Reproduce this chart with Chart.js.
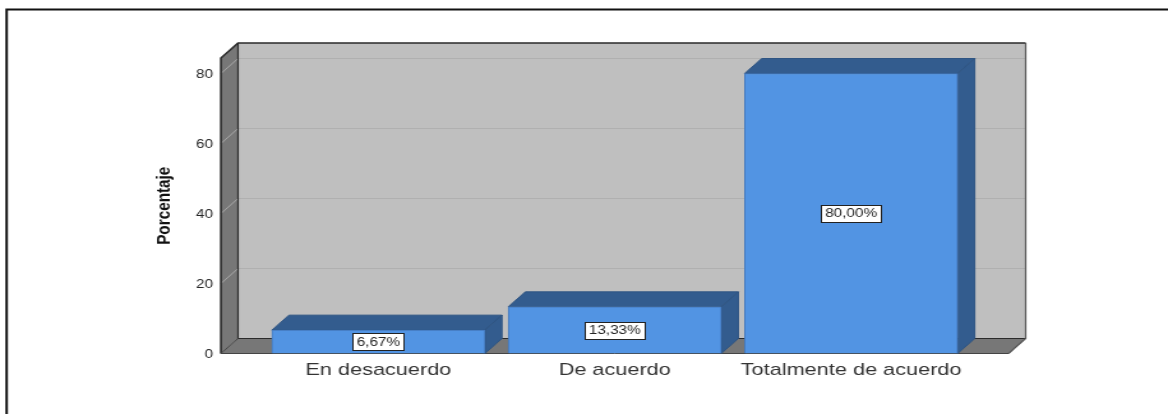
<!DOCTYPE html>
<html><head><meta charset="utf-8">
<style>
html,body{margin:0;padding:0;background:#fff;overflow:hidden;width:1168px;height:414px}
canvas{display:block;transform-origin:0 0;transform:scale(1.2765,1);filter:blur(0.35px)}
</style>
<script src="https://cdn.jsdelivr.net/npm/chart.js@4"></script>
</head><body><canvas id="c" width="915" height="414" style="width:915px;height:414px"></canvas>
<script>
const categories = ["En desacuerdo", "De acuerdo", "Totalmente de acuerdo"];
const values = [6.67, 13.33, 80];
const valueLabels = ["6,67%", "13,33%", "80,00%"];
const yTicks = [0, 20, 40, 60, 80];
const yTitle = "Porcentaje";

const DX = 13.4, DY = 15;
const WALL = "#bfbfbf", SIDE = "#777777", EDGE = "#2b2b2b", FRONT = "#5294e3", DARK = "#335c8e";

function poly(ctx, pts, fill, stroke, lw) {
  ctx.beginPath();
  pts.forEach((p, i) => i ? ctx.lineTo(p[0], p[1]) : ctx.moveTo(p[0], p[1]));
  ctx.closePath();
  if (fill) { ctx.fillStyle = fill; ctx.fill(); }
  if (stroke) { ctx.strokeStyle = stroke; ctx.lineWidth = lw || 1; ctx.stroke(); }
}
const box3d = {
  id: "box3d",
  beforeDatasetsDraw(chart) {
    const { ctx, chartArea: a, scales: { y } } = chart;
    const L = a.left, R = a.right, T = a.top, B = a.bottom;
    ctx.save();
    // page frame
    ctx.strokeStyle = "#111"; ctx.lineWidth = 2;
    ctx.beginPath(); ctx.moveTo(5.2, 414); ctx.lineTo(5.2, 9.5); ctx.lineTo(915, 9.5); ctx.stroke();
    // walls
    poly(ctx, [[L + DX, T - DY], [R + DX, T - DY], [R + DX, B - DY], [L + DX, B - DY]], WALL);
    poly(ctx, [[L, T], [L + DX, T - DY], [L + DX, B - DY], [L, B]], SIDE);
    poly(ctx, [[L, B], [L + DX, B - DY], [R + DX, B - DY], [R, B]], SIDE);
    // grid on walls
    yTicks.slice(1).forEach(v => {
      const p = Math.floor(y.getPixelForValue(v)) + 0.5;
      ctx.strokeStyle = "#b0b0b0"; ctx.lineWidth = 1;
      ctx.beginPath(); ctx.moveTo(L + DX, p - DY); ctx.lineTo(R + DX, p - DY); ctx.stroke();
      ctx.strokeStyle = "#a8a8a8";
      ctx.beginPath(); ctx.moveTo(L, p); ctx.lineTo(L + DX, p - DY); ctx.stroke();
    });
    // outlines
    ctx.strokeStyle = EDGE; ctx.lineWidth = 1.6;
    ctx.beginPath(); ctx.moveTo(L, B); ctx.lineTo(L, T); ctx.lineTo(L + DX, T - DY);
    ctx.lineTo(R + DX, T - DY); ctx.stroke();
    ctx.lineWidth = 1.2;
    ctx.beginPath(); ctx.moveTo(L + DX, T - DY); ctx.lineTo(L + DX, B - DY); ctx.lineTo(R + DX, B - DY); ctx.stroke();
    ctx.strokeStyle = "#555";
    ctx.beginPath(); ctx.moveTo(R + DX, T - DY); ctx.lineTo(R + DX, B - DY); ctx.lineTo(R, B); ctx.stroke();
    ctx.strokeStyle = "#444"; ctx.lineWidth = 1;
    ctx.beginPath(); ctx.moveTo(L, B); ctx.lineTo(L + DX, B - DY); ctx.stroke();
    ctx.beginPath(); ctx.moveTo(L, B); ctx.lineTo(R, B); ctx.stroke();
    // bar depth
    chart.getDatasetMeta(0).data.forEach(bar => {
      const l = bar.x - bar.width / 2, r = bar.x + bar.width / 2, t = bar.y, b = bar.base;
      poly(ctx, [[l, t], [l + DX, t - DY], [r + DX, t - DY], [r, t]], DARK, "#2f5583", 1);
      poly(ctx, [[r, t], [r + DX, t - DY], [r + DX, b - DY], [r, b]], DARK, "#2f5583", 1);
    });
    ctx.restore();
  },
  afterDatasetsDraw(chart) {
    const { ctx } = chart;
    ctx.save();
    ctx.font = "12px 'Liberation Sans', Arial, sans-serif";
    ctx.textAlign = "center"; ctx.textBaseline = "middle";
    chart.getDatasetMeta(0).data.forEach((bar, i) => {
      const cy = (bar.y + bar.base) / 2;
      const w = ctx.measureText(valueLabels[i]).width + 6, h = 17;
      const x0 = Math.round(bar.x - w / 2) + 0.5, y0 = Math.round(cy - h / 2) + 0.5;
      ctx.fillStyle = "#fff"; ctx.fillRect(x0, y0, Math.round(w), h);
      ctx.strokeStyle = "#222"; ctx.lineWidth = 1; ctx.strokeRect(x0, y0, Math.round(w), h);
      ctx.fillStyle = "#262626"; ctx.fillText(valueLabels[i], bar.x, cy + 0.5);
    });
    ctx.restore();
  }
};

new Chart(document.getElementById("c"), {
  type: "bar",
  data: {
    datasets: [{
      data: categories.map((_, i) => ({ x: i, y: values[i] })),
      backgroundColor: FRONT,
      borderColor: "#4479bd",
      borderWidth: 1,
      barThickness: 166.9
    }]
  },
  options: {
    responsive: false,
    animation: false,
    layout: { padding: { left: 120, right: 124.9, top: 58, bottom: 0 } },
    plugins: { legend: { display: false }, tooltip: { enabled: false } },
    scales: {
      x: {
        type: "linear", min: -0.666, max: 2.666, offset: false,
        grid: { display: false, drawTicks: false }, border: { display: false },
        afterBuildTicks(s) { s.ticks = categories.map((_, i) => ({ value: i })); },
        afterFit(s) { s.height = 60.5; },
        ticks: {
          autoSkip: false, maxRotation: 0, padding: 7, color: "#333",
          font: { family: "'Liberation Sans', Arial, sans-serif", size: 17 },
          callback: v => categories[v]
        }
      },
      y: {
        min: 0, max: 84.43,
        grid: { display: false, drawTicks: false }, border: { display: false },
        afterBuildTicks(s) { s.ticks = yTicks.map(v => ({ value: v })); },
        afterFit(s) { s.width = 53.06; },
        title: {
          display: true, text: yTitle, color: "#111", padding: 0,
          font: { family: "'Liberation Sans', Arial, sans-serif", size: 15.3, weight: "bold" }
        },
        ticks: {
          padding: 6.2, color: "#262626", labelOffset: 1,
          font: { family: "'Liberation Sans', Arial, sans-serif", size: 12 }
        }
      }
    }
  },
  plugins: [box3d]
});
</script></body></html>
